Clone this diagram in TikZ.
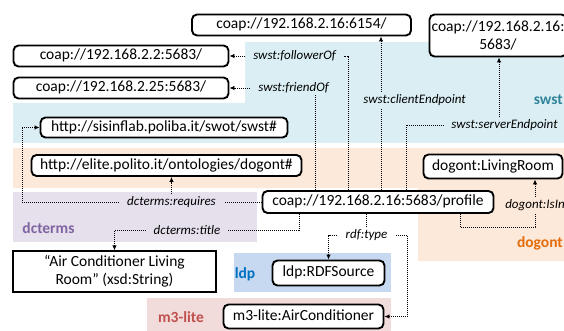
\documentclass[tikz,border=0pt]{standalone}
\usepackage{fontspec}
\setmainfont{Carlito}
\usetikzlibrary{arrows.meta,calc}
\pgfdeclarelayer{regions}
\pgfdeclarelayer{edges}
\pgfsetlayers{regions,edges,main}
\definecolor{swstbg}{RGB}{218,238,243}
\definecolor{dogbg}{RGB}{253,233,217}
\definecolor{dcbg}{RGB}{229,224,236}
\definecolor{ldpbg}{RGB}{198,217,241}
\definecolor{m3bg}{RGB}{242,220,219}
\definecolor{swstc}{RGB}{49,133,155}
\definecolor{dogc}{RGB}{228,108,10}
\definecolor{dcc}{RGB}{128,100,162}
\definecolor{ldpc}{RGB}{0,112,192}
\definecolor{m3c}{RGB}{192,80,77}
\begin{document}
\begin{tikzpicture}[x=1pt,y=-1pt,
  boxbase/.style={draw=black, line width=1.9pt, rounded corners=5pt, fill=white, inner sep=0pt,
    font=\fontsize{15.5}{17.5}\selectfont},
  res/.style={boxbase, text height=10.5pt, text depth=3pt},
  lit/.style={draw=black, line width=1.1pt, fill=white, inner sep=0pt, align=center,
    font=\fontsize{15.5}{18}\selectfont},
  lbl/.style={inner xsep=8pt, inner ysep=2pt, font=\fontsize{13}{15}\selectfont\itshape},
  ns/.style={font=\fontsize{15.5}{17}\selectfont\bfseries, inner sep=0pt},
  rel/.style={line width=0.9pt, dash pattern=on 1pt off 1pt},
  arr/.style={-{Latex[length=5pt,width=4.5pt]}},
]
\useasboundingbox (0,0) rectangle (564,331);
\clip (0,0) rectangle (564,331);

% regions
\begin{pgfonlayer}{regions}
\fill[swstbg] (245,42) -- (564,42) -- (564,143) -- (13,143) -- (13,103) -- (245,103) -- cycle;
\fill[dogbg] (13,148) -- (564,148) -- (564,261) -- (418,261) -- (418,188) -- (13,188) -- cycle;
\fill[dcbg] (13,192) rectangle (257,242);
\fill[ldpbg] (234,253) rectangle (391,292);
\fill[m3bg] (147,298) rectangle (391,331);
\end{pgfonlayer}

% region labels
\node[ns, text=swstc, anchor=east] (swstl) at (563,100) {swst};
\node[ns, text=dogc, anchor=east] (dogl) at (563,243) {dogont};
\node[ns, text=dcc] (dcl) at (48.5,228) {dcterms};
\node[ns, text=ldpc] (ldpl) at (245,274) {ldp};
\node[ns, text=m3c] (m3l) at (181,317) {m3-lite};

% resources
\node[res, minimum width=219, minimum height=21] (n6154) at (301.5,25) {coap://192.168.2.16:6154/};
\node[boxbase, align=center, minimum width=137, minimum height=42] (n5683) at (498,35.5) {coap://192.168.2.16:\\5683/};
\node[res, minimum width=215, minimum height=21] (n22) at (121,56) {coap://192.168.2.2:5683/};
\node[res, minimum width=215, minimum height=21] (n25) at (121,88) {coap://192.168.2.25:5683/};
\node[res, minimum width=247, minimum height=20] (swstns) at (164,127.5) {http://sisinflab.poliba.it/swot/swst\#};
\node[res, minimum width=270, minimum height=21] (dogontns) at (166.5,165.5) {http://elite.polito.it/ontologies/dogont\#};
\node[res, minimum width=231, minimum height=22] (profile) at (378,202) {coap://192.168.2.16:5683/profile};
\node[res, minimum width=139, minimum height=24] (living) at (493,166.5) {dogont:LivingRoom};
\node[lit, minimum width=203, minimum height=41] (acstr) at (114.5,271.5) {“Air Conditioner Living\\Room” (xsd:String)};
\node[res, minimum width=112, minimum height=25] (rdfsrc) at (328.5,273) {ldp:RDFSource};
\node[res, minimum width=160, minimum height=24] (m3ac) at (303.5,316.5) {m3-lite:AirConditioner};

% property labels
\node[lbl] (fo) at (294.5,56) {swst:followerOf};
\node[lbl] (fr) at (293.5,88) {swst:friendOf};
\node[lbl, fill=swstbg] (ce) at (414.5,100) {swst:clientEndpoint};
\node[lbl] (se) at (504.5,125) {swst:serverEndpoint};
\node[lbl] (req) at (171.5,202) {dcterms:requires};
\node[lbl] (tit) at (187,230) {dcterms:title};
\node[lbl] (rt) at (366.5,235) {rdf:type};
\node[lbl, fill=dogbg, inner xsep=2pt] (isin) at (535,205) {dogont:IsIn};

% helper coordinates
\coordinate (xfo) at (348,0);
\coordinate (xfr) at (315,0);
\coordinate (xce) at (381,0);
\coordinate (xse) at (406,0);
\coordinate (xse2) at (499,0);
\coordinate (xreq) at (22,0);
\coordinate (xti) at (299,0);
\coordinate (xrt) at (407,0);
\coordinate (xis) at (460,0);
\coordinate (cis) at (535,227);

\begin{pgfonlayer}{edges}
\draw[rel] (xfo |- profile.north) |- (fo.east);
\draw[rel,arr] (fo.west) -- (n22.east);
\draw[rel] (xfr |- profile.north) -- (xfr |- fr.south);
\draw[rel,arr] (fr.west) -- (n25.east);
\draw[rel,arr] (xce |- profile.north) -- (xce |- n6154.south);
\draw[rel] (xse |- profile.north) |- (se.west);
\draw[rel,arr] (xse2 |- se.north) -- (xse2 |- n5683.south);
\draw[rel] (profile.west) -- (req.east);
\draw[rel,arr] (req.west) -- (xreq |- req.west) |- (swstns.west);
\draw[rel,arr] (req.north) -- (req.north |- dogontns.south);
\draw[rel] (xti |- profile.south) |- (tit.east);
\draw[rel,arr] (tit.west) -| (acstr.north);
\draw[rel] (profile.south -| rt.north) -- (rt.north);
\draw[rel,arr] (rt.west) -| (rdfsrc.north);
\draw[rel,arr] (rt.east) -- (xrt |- rt.east) |- (m3ac.east);
\draw[rel,arr] (xis |- profile.south) |- (cis) -- (cis |- living.south);
\end{pgfonlayer}
\end{tikzpicture}
\end{document}
